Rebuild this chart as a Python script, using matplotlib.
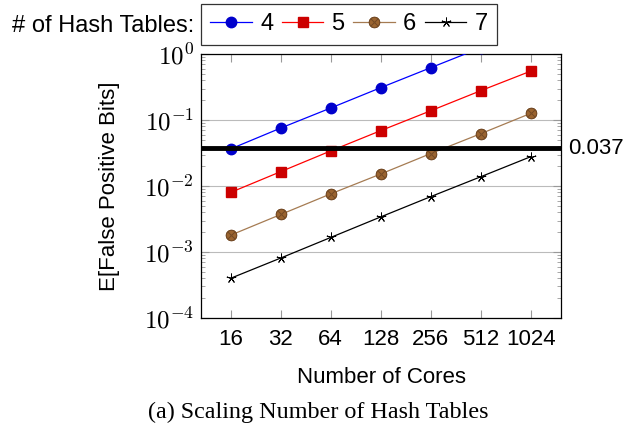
import matplotlib
matplotlib.use('Agg')
import matplotlib.pyplot as plt
import numpy as np

plt.rcParams['font.family'] = ['Liberation Sans', 'DejaVu Sans']
plt.rcParams['mathtext.fontset'] = 'cm'

cores = [16, 32, 64, 128, 256, 512, 1024]
xtick_labels = ['16', '32', '64', '128', '256', '512', '1024']
fp_4 = [0.0365, 0.0755, 0.152, 0.309, 0.62, 1.24, 2.48]
fp_5 = [0.0080, 0.0165, 0.034, 0.069, 0.138, 0.278, 0.55]
fp_6 = [0.0018, 0.0037, 0.0076, 0.0152, 0.031, 0.062, 0.126]
fp_7 = [0.0004, 0.00081, 0.00166, 0.0034, 0.0069, 0.0138, 0.0278]
threshold = 0.037

FS = 16

fig = plt.figure(figsize=(6.29, 4.30), dpi=100)
ax = fig.add_axes([0.3196, 0.2605, 0.5723, 0.6139])

l4, = ax.plot(cores, fp_4, '-', color='#0000FF', lw=0.9, marker='o', ms=7.5,
              mfc='#0000CC', mec='#0000CC', zorder=4)
l5, = ax.plot(cores, fp_5, '-', color='#FF0000', lw=0.9, marker='s', ms=7.5,
              mfc='#CC0000', mec='#CC0000', zorder=4)
l6o, = ax.plot(cores, fp_6, '-', color='#A57B52', lw=0.9, marker='o', ms=7.5,
               mfc='#9A6430', mec='#7A4E25', mew=0.6, zorder=3.9)
l6x, = ax.plot(cores, fp_6, ' ', marker='$\\otimes$', ms=8,
               mfc='#9A6430', mec='#6B4423', mew=0.3, zorder=4)
l7, = ax.plot(cores, fp_7, '-', color='black', lw=0.9, marker=(5, 2, 0), ms=7,
              mew=0.7, zorder=4)

ax.axhline(threshold, color='black', lw=3.5, zorder=5)
ax.text(1.02, threshold, '0.037', transform=ax.get_yaxis_transform(),
        va='center', ha='left', fontsize=FS)

ax.set_xscale('log', base=2)
ax.set_yscale('log')
ax.set_xlim(2 ** 3.406, 2 ** 10.606)
ax.set_ylim(1e-4, 1e0)
ax.set_xticks(cores)
ax.set_xticklabels(xtick_labels)
ax.xaxis.set_minor_locator(matplotlib.ticker.NullLocator())
ax.set_yticks([1e-4, 1e-3, 1e-2, 1e-1, 1e0])
ax.set_yticklabels([r'$10^{-4}$', r'$10^{-3}$', r'$10^{-2}$', r'$10^{-1}$', r'$10^{0}$'])
ax.yaxis.set_minor_locator(matplotlib.ticker.LogLocator(base=10, subs=np.arange(2, 10), numticks=20))
ax.yaxis.set_minor_formatter(matplotlib.ticker.NullFormatter())

ax.tick_params(axis='both', which='both', direction='in', color='#999999',
               top=True, right=True, labelsize=FS)
ax.tick_params(axis='y', which='major', labelsize=FS + 2)
ax.tick_params(axis='both', which='major', length=6, width=0.8, pad=8)
ax.tick_params(axis='y', which='major', pad=5)
ax.tick_params(axis='y', which='minor', length=3, width=0.6)
ax.grid(axis='y', which='major', color='#BBBBBB', lw=0.8)
ax.set_axisbelow(True)
for s in ax.spines.values():
    s.set_linewidth(0.9)

ax.set_xlabel('Number of Cores', fontsize=FS, labelpad=12)
ax.set_ylabel('E[False Positive Bits]', fontsize=FS, labelpad=17)

leg = fig.legend([l4, l5, (l6o, l6x), l7], ['4', '5', '6', '7'],
                 loc='center left', bbox_to_anchor=(201 / 629, 1 - 24.5 / 430),
                 ncol=4, fontsize=FS + 1, frameon=True, fancybox=False,
                 edgecolor='black', handlelength=1.75, handletextpad=0.35,
                 columnspacing=0.37, borderpad=0.4, borderaxespad=0)
leg.get_frame().set_linewidth(0.9)
fig.text(194 / 629, 1 - 26 / 430, '# of Hash Tables:', ha='right', va='center',
         fontsize=FS + 1)

fig.text(318 / 629, 1 - 412 / 430, '(a) Scaling Number of Hash Tables', ha='center',
         va='center', fontsize=17.4, family='Liberation Serif')

fig.savefig('out.png', dpi=100)
